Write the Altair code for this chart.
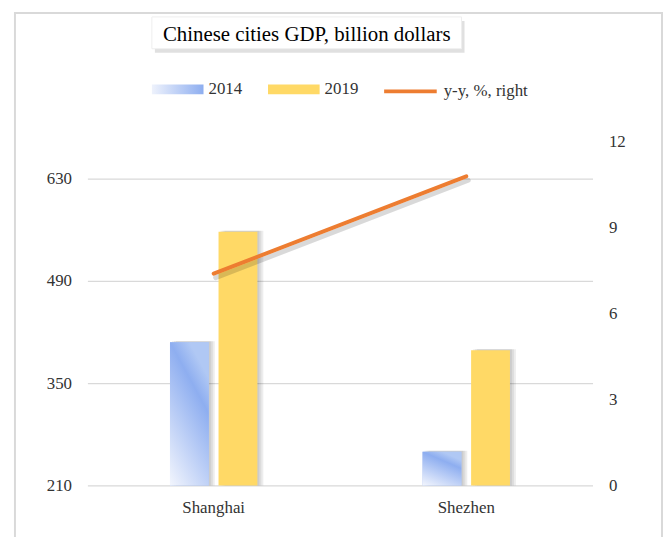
import altair as alt
import pandas as pd

cities = ["Shanghai", "Shezhen"]
years = ["2014", "2019"]
gdp_2014 = [406, 256]
gdp_2019 = [557, 395]
yy_growth = [7.4, 10.8]
left_ticks = [210, 350, 490, 630]
right_ticks = [0, 3, 6, 9, 12]
title_text = "Chinese cities GDP, billion dollars"
line_label = "y-y, %, right"

FONT = "Liberation Serif"
TXT = "#333333"
BLUE_GRAD = alt.LinearGradient(
    gradient="linear", x1=0, y1=1, x2=0.5, y2=0,
    stops=[alt.GradientStop(offset=0, color="#f2f5fd"),
           alt.GradientStop(offset=0.8, color="#8eaef0"),
           alt.GradientStop(offset=1, color="#b0c8f4")])
YELLOW = "#FFD966"
ORANGE = "#ED7D31"
RECT_PATH = "M-1,-0.192L1,-0.192L1,0.192L-1,0.192Z"

bars = pd.DataFrame({
    "city": cities * 2,
    "year": [years[0]] * 2 + [years[1]] * 2,
    "gdp": gdp_2014 + gdp_2019,
})
line = pd.DataFrame({"city": cities, "growth": yy_growth, "series": [line_label] * 2})
one = pd.DataFrame({"k": [0]})

W, H = 509, 346

x_scale = alt.Scale(domain=cities, paddingInner=0.654, paddingOuter=0.327)
x_axis = alt.Axis(title=None, labelAngle=0, domain=False, ticks=False, bandPosition=0.5,
                  labelPadding=14, labelFont=FONT, labelFontSize=17, labelColor=TXT)
x_enc = alt.X("city:N", scale=x_scale, axis=x_axis)
xo_enc = alt.XOffset("year:N", scale=alt.Scale(domain=years, paddingInner=0.2, paddingOuter=0))
y_left = alt.Y("gdp:Q", scale=alt.Scale(domain=[210, 680], zero=False, nice=False),
               axis=alt.Axis(title=None, values=left_ticks, domain=False, ticks=False,
                             labelPadding=16, labelFont=FONT, labelFontSize=17, labelColor=TXT,
                             grid=True, gridColor="#d9d9d9", gridWidth=1.2))

frame = alt.Chart(one).mark_rect(filled=False, stroke="#d9d9d9", strokeWidth=2).encode(
    x=alt.value(-73), x2=alt.value(579), y=alt.value(-130), y2=alt.value(420))
tbox_shadow = alt.Chart(one).mark_rect(fill="#000000", opacity=0.12).encode(
    x=alt.value(68), x2=alt.value(380), y=alt.value(-122), y2=alt.value(-90))
tbox = alt.Chart(one).mark_rect(fill="white", stroke="#eeeeee").encode(
    x=alt.value(65), x2=alt.value(377), y=alt.value(-126), y2=alt.value(-94))
title_mark = alt.Chart(one).mark_text(font=FONT, fontSize=21, color="#000000",
                                      align="center", baseline="alphabetic").encode(
    x=alt.value(221), y=alt.value(-102), text=alt.value(title_text))

# soft drop shadows for the bars (same data, same scales, shifted a few pixels)
band_pos = {"2014": (0.0, 0.444), "2019": (0.556, 1.0)}
shadow_layers = []
for yr in years:
    b0, b1 = band_pos[yr]
    for off in (2, 4, 6):
        shadow_layers.append(
            alt.Chart(bars).transform_filter(alt.datum.year == yr).mark_rect(
                color="#000000", opacity=0.07, xOffset=off, x2Offset=off, yOffset=-1).encode(
                x=alt.X("city:N", bandPosition=b0, scale=x_scale, axis=x_axis),
                x2=alt.X2("city", bandPosition=b1),
                y=y_left, y2=alt.datum(210)))

bar_layer = alt.Chart(bars).mark_bar().encode(
    x=x_enc, xOffset=xo_enc, y=y_left, y2=alt.datum(210),
    color=alt.Color("year:N", scale=alt.Scale(domain=years, range=["#a9c1f2", YELLOW]),
                    legend=None),
)
grad_layer = alt.Chart(bars).transform_filter(alt.datum.year == "2014").mark_bar(
    color=BLUE_GRAD).encode(x=x_enc, xOffset=xo_enc, y=y_left, y2=alt.datum(210))

legend_expr = ("datum.value === '2014' ? {gradient: 'linear', x1: 0, y1: 0, x2: 1, y2: 0, "
               "stops: [{offset: 0, color: '#eef2fc'}, {offset: 1, color: '#8eaef0'}]} : '#FFD966'")
legend_layer = alt.Chart(bars).mark_point(opacity=0, filled=True,
                                          color=alt.ExprRef(legend_expr)).encode(
    x=x_enc, xOffset=xo_enc, y=y_left,
    shape=alt.Shape("year:N", scale=alt.Scale(domain=years, range=[RECT_PATH, RECT_PATH]),
                    legend=alt.Legend(
                        title=None, orient="none", legendX=65, legendY=-79,
                        direction="horizontal", padding=0, columnPadding=26,
                        symbolSize=2704, symbolStrokeWidth=0, symbolOpacity=1,
                        labelOffset=5, labelFont=FONT, labelFontSize=17, labelColor=TXT)),
)
left = alt.layer(*shadow_layers, bar_layer, grad_layer, legend_layer)

y_right = alt.Y("growth:Q", scale=alt.Scale(domain=[0, 12], nice=False),
                axis=alt.Axis(title=None, orient="right", values=right_ticks, domain=False,
                              ticks=False, grid=False, labelPadding=16, labelFont=FONT,
                              labelFontSize=17, labelColor=TXT))
line_shadow = alt.Chart(line).mark_line(color="#000000", opacity=0.15, strokeWidth=5,
                                        strokeCap="round", xOffset=2, yOffset=4).encode(
    x=alt.X("city:N", scale=x_scale, axis=x_axis), y=y_right)
line_layer = alt.Chart(line).mark_line(strokeWidth=4, strokeCap="round").encode(
    x=alt.X("city:N", scale=x_scale, axis=x_axis), y=y_right,
    stroke=alt.Stroke("series:N", scale=alt.Scale(domain=[line_label], range=[ORANGE]),
                      legend=alt.Legend(title=None, orient="none", legendX=297, legendY=-79.5,
                                        padding=0, symbolType="stroke", symbolSize=2809,
                                        symbolStrokeWidth=4, labelOffset=5, labelFont=FONT,
                                        labelFontSize=17, labelColor=TXT)))
right = alt.layer(line_shadow, line_layer)

chart = alt.layer(frame, tbox_shadow, tbox, title_mark, left, right).resolve_scale(
    y="independent", color="independent", stroke="independent"
).properties(
    width=W, height=H,
    autosize=alt.AutoSizeParams(type="none"),
    padding={"left": 80, "top": 133, "right": 72, "bottom": 50},
    background="white",
).configure_view(stroke=None)

chart.save("out.html", embed_options={"renderer": "svg", "actions": False})
